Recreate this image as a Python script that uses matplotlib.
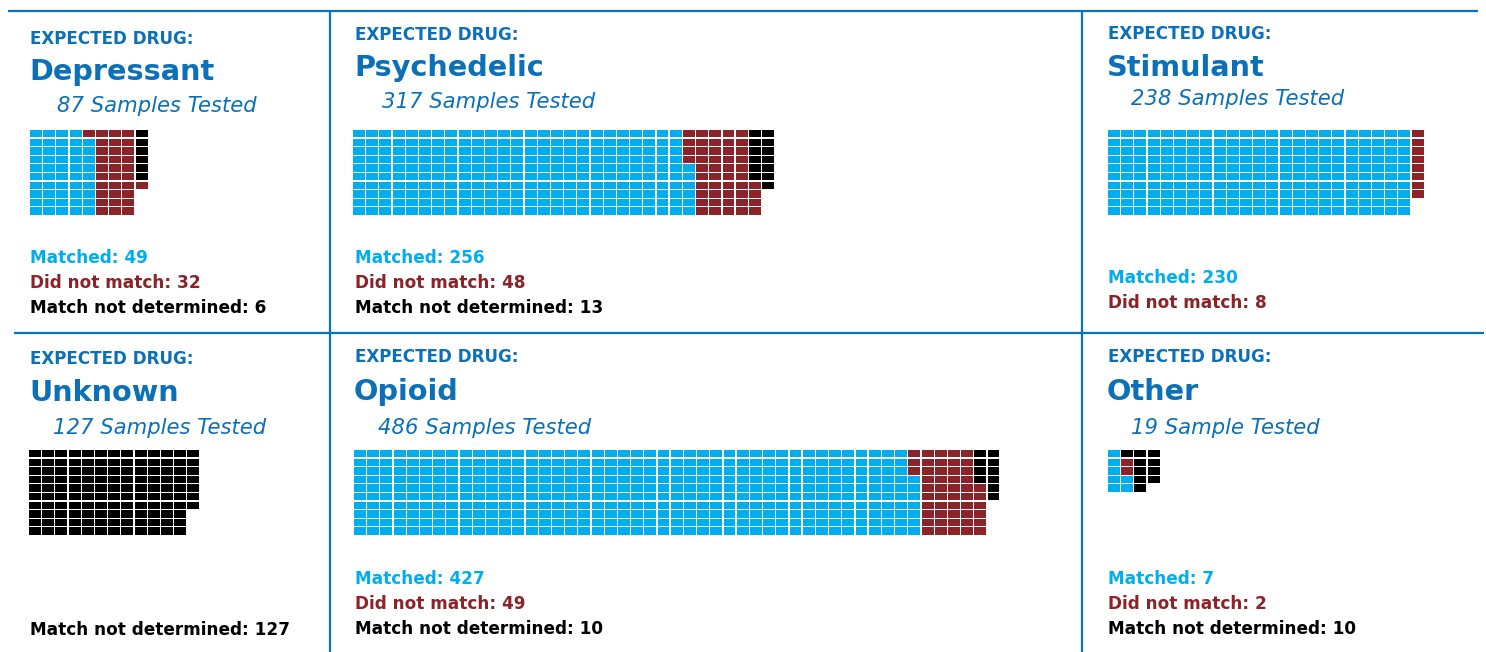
import matplotlib
matplotlib.use("Agg")
import matplotlib.pyplot as plt
from matplotlib.patches import Rectangle

# data
drug_names = ["Depressant", "Psychedelic", "Stimulant", "Unknown", "Opioid", "Other"]
samples_tested = [87, 317, 238, 127, 486, 19]
matched = [49, 256, 230, 0, 427, 7]
not_matched = [32, 48, 8, 0, 49, 2]
not_determined = [6, 13, 0, 127, 10, 10]
sample_words = ["Samples", "Samples", "Samples", "Samples", "Samples", "Sample"]
grid_rows = [10, 10, 10, 10, 10, 5]

# colours
LINE_BLUE = "#0a72ba"
HEAD_BLUE = "#0b70b8"
MATCH_COL = "#00aeef"
NOMATCH_COL = "#8b2328"
UNDET_COL = "#000000"

# layout in pixels (figure is 1486 x 652)
panel_x = [30, 355, 1108, 30, 355, 1108]
sub_x = [57, 382, 1131, 53, 378, 1131]
header_base = [44, 40, 39, 364, 362, 362]
title_base = [80, 76, 76, 401, 400, 400]
sub_base = [112, 108, 105, 434, 434, 434]
grid_left = [30, 353, 1108, 29, 354, 1108]
grid_top = [130, 130, 130, 450, 450, 450]
legend_bottom = [313, 313, 308, 635, 634, 634]

PITCH_X, PITCH_Y = 13.2, 8.6
CELL_W, CELL_H = 11.9, 7.3

FONT = "DejaVu Sans"


def draw_waffle(ax, left, top, rows, counts, colors):
    total = sum(counts)
    cells = []
    for n, c in zip(counts, colors):
        cells += [c] * n
    for i, c in enumerate(cells):
        col = i // rows
        k = min(rows, total - col * rows)
        row = k - 1 - i % rows
        ax.add_patch(Rectangle((left + col * PITCH_X, top + row * PITCH_Y),
                               CELL_W, CELL_H, facecolor=c, lw=0))


fig = plt.figure(figsize=(14.86, 6.52), dpi=100)
ax = fig.add_axes([0, 0, 1, 1])
ax.set_xlim(0, 1486)
ax.set_ylim(652, 0)
ax.axis("off")

# divider lines
lw = 1.6
ax.plot([8, 1478], [11, 11], color=LINE_BLUE, lw=lw, solid_capstyle="butt")
ax.plot([14, 1484], [333, 333], color=LINE_BLUE, lw=lw, solid_capstyle="butt")
ax.plot([330, 330], [11, 652], color=LINE_BLUE, lw=lw, solid_capstyle="butt")
ax.plot([1082, 1082], [11, 652], color=LINE_BLUE, lw=lw, solid_capstyle="butt")

for i, name in enumerate(drug_names):
    x = panel_x[i]
    ax.text(x, header_base[i], "EXPECTED DRUG:", color=HEAD_BLUE, fontsize=12.1,
            fontweight="bold", family=FONT, va="baseline")
    ax.text(x - 1, title_base[i], name, color=HEAD_BLUE, fontsize=20.7,
            fontweight="bold", family=FONT, va="baseline")
    ax.text(sub_x[i], sub_base[i], f"{samples_tested[i]} {sample_words[i]} Tested",
            color=HEAD_BLUE, fontsize=15.2, style="italic", family=FONT, va="baseline")

    draw_waffle(ax, grid_left[i], grid_top[i], grid_rows[i],
                [matched[i], not_matched[i], not_determined[i]],
                [MATCH_COL, NOMATCH_COL, UNDET_COL])

    lines = []
    if matched[i]:
        lines.append((f"Matched: {matched[i]}", MATCH_COL))
    if not_matched[i]:
        lines.append((f"Did not match: {not_matched[i]}", NOMATCH_COL))
    if not_determined[i]:
        lines.append((f"Match not determined: {not_determined[i]}", UNDET_COL))
    y = legend_bottom[i] - 25 * (len(lines) - 1)
    for txt, c in lines:
        ax.text(x, y, txt, color=c, fontsize=12.2, fontweight="bold", family=FONT,
                va="baseline")
        y += 25

fig.savefig("out.png", dpi=100)
